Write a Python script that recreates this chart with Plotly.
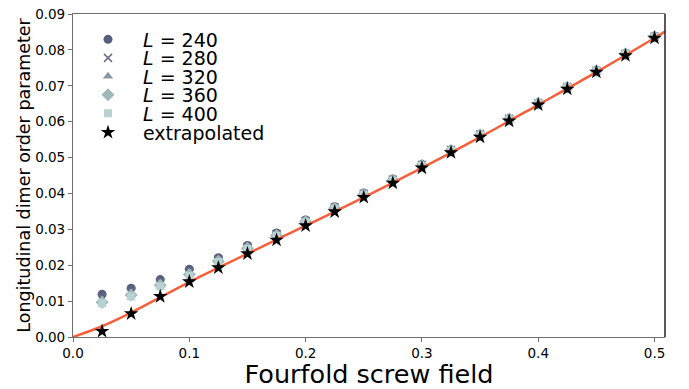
import plotly.graph_objects as go

h = [0.025, 0.05, 0.075, 0.1, 0.125, 0.15, 0.175, 0.2, 0.225, 0.25,
     0.275, 0.3, 0.325, 0.35, 0.375, 0.4, 0.425, 0.45, 0.475, 0.5]

L240 = [0.0119, 0.0136, 0.0160, 0.0189, 0.0221, 0.0255, 0.0290, 0.0326, 0.0363, 0.0401,
        0.0440, 0.0481, 0.0522, 0.0565, 0.0609, 0.0653, 0.0697, 0.0743, 0.0790, 0.0838]
L280 = [0.0110, 0.0128, 0.0153, 0.0183, 0.0216, 0.0251, 0.0287, 0.0323, 0.0361, 0.0399,
        0.0438, 0.0479, 0.0521, 0.0564, 0.0608, 0.0652, 0.0697, 0.0742, 0.0789, 0.0837]
L320 = [0.0103, 0.0122, 0.0148, 0.0178, 0.0213, 0.0249, 0.0285, 0.0322, 0.0360, 0.0398,
        0.0437, 0.0478, 0.0520, 0.0563, 0.0607, 0.0652, 0.0696, 0.0742, 0.0789, 0.0837]
L360 = [0.0097, 0.0117, 0.0144, 0.0174, 0.0211, 0.0247, 0.0283, 0.0321, 0.0359, 0.0397,
        0.0437, 0.0478, 0.0520, 0.0563, 0.0607, 0.0651, 0.0696, 0.0742, 0.0789, 0.0837]
L400 = [0.0094, 0.0113, 0.0141, 0.0170, 0.0209, 0.0245, 0.0282, 0.0320, 0.0358, 0.0397,
        0.0436, 0.0477, 0.0519, 0.0562, 0.0606, 0.0651, 0.0696, 0.0741, 0.0788, 0.0836]
extrap = [0.0016, 0.0065, 0.0113, 0.0154, 0.0193, 0.0232, 0.0270, 0.0310, 0.0349, 0.0389,
          0.0429, 0.0471, 0.0514, 0.0557, 0.0602, 0.0647, 0.0691, 0.0738, 0.0784, 0.0833]

fit_x = [0.0, 0.025, 0.05, 0.1, 0.15, 0.2, 0.25, 0.3, 0.35, 0.4, 0.45, 0.5, 0.509]
fit_y = [0.0, 0.0030, 0.0068, 0.0153, 0.0232, 0.0310, 0.0389, 0.0471, 0.0557, 0.0647, 0.0738, 0.0833, 0.0851]

x_ticks = [0.0, 0.1, 0.2, 0.3, 0.4, 0.5]
y_ticks = [0.00, 0.01, 0.02, 0.03, 0.04, 0.05, 0.06, 0.07, 0.08, 0.09]

series = [
    ("<i>L</i> = 240", L240, "circle", "#595d7e", 9),
    ("<i>L</i> = 280", L280, "x-thin", "#676a8a", 8),
    ("<i>L</i> = 320", L320, "triangle-up", "#8a99a5", 9),
    ("<i>L</i> = 360", L360, "diamond", "#9fb7b8", 10),
    ("<i>L</i> = 400", L400, "square", "#b7d2d1", 8),
]

# the page body has an 8px margin, so the figure is drawn 8px in and 8px down
OFF = 8
W, H = 689 - OFF, 389 - OFF
ml, mt = 73 - OFF, 14 - OFF
mr = W - (665.5 - OFF)
mb = H - (337 - OFF)
ph = H - mt - mb

def ypaper(py):
    return 1 - (py - OFF - mt) / ph

rows = [39.5, 58, 76.5, 95, 113.5, 132.5]

fig = go.Figure()
for i, (name, vals, sym, col, sz) in enumerate(series):
    mk = dict(symbol=sym, color=col, size=sz)
    if sym == "x-thin":
        mk["line"] = dict(color=col, width=1.5)
    fig.add_trace(go.Scatter(x=h, y=vals, mode="markers", name=name, marker=mk,
                             legend="legend" if i == 0 else f"legend{i+1}"))

fig.add_trace(go.Scatter(x=fit_x, y=fit_y, mode="lines", line=dict(color="#f5603c", width=2.5, shape="spline"),
                         showlegend=False))
fig.add_trace(go.Scatter(x=h, y=extrap, mode="markers", name="extrapolated",
                         marker=dict(symbol="star", color="black", size=11), legend="legend6"))

legend_common = dict(x=0.0, xanchor="left", yanchor="middle", bgcolor="rgba(0,0,0,0)",
                     font=dict(family="DejaVu Sans", size=19, color="black"),
                     itemwidth=60, borderwidth=0)
lay_legends = {}
for i, r in enumerate(rows):
    key = "legend" if i == 0 else f"legend{i+1}"
    lay_legends[key] = dict(legend_common, y=ypaper(r))

fig.update_layout(
    width=W, height=H,
    margin=dict(l=ml, r=mr, t=mt, b=mb, pad=0, autoexpand=False),
    paper_bgcolor="white", plot_bgcolor="white",
    font=dict(family="DejaVu Sans", color="black"),
    showlegend=True,
    xaxis=dict(range=[0, 0.509], tickvals=x_ticks, ticktext=[f"{v:.1f}" for v in x_ticks],
               showgrid=False, zeroline=False, showline=True, linecolor="#6e6e6e", linewidth=1.2,
               mirror=True, ticks="outside", ticklen=4, tickcolor="#6e6e6e", automargin=False,
               tickfont=dict(size=13.5, color="black"), ticklabeloverflow="allow",
               title=dict(text="Fourfold screw field", font=dict(size=25.5, color="black"), standoff=0)),
    yaxis=dict(range=[0, 0.09], tickvals=y_ticks, ticktext=[f"{v:.2f}" for v in y_ticks],
               showgrid=False, zeroline=False, showline=True, linecolor="#6e6e6e", linewidth=1.2,
               ticks="outside", ticklen=4, tickcolor="#6e6e6e", automargin=False,
               tickfont=dict(size=13.5, color="black"), ticklabeloverflow="allow",
               title=dict(text="Longitudinal dimer order parameter", font=dict(size=17.5, color="black"), standoff=0)),
    shapes=[dict(type="line", xref="paper", yref="paper", x0=1, x1=1, y0=0, y1=1,
                 line=dict(color="black", width=1.3))],
    **lay_legends,
)

fig.write_html("out.html")
